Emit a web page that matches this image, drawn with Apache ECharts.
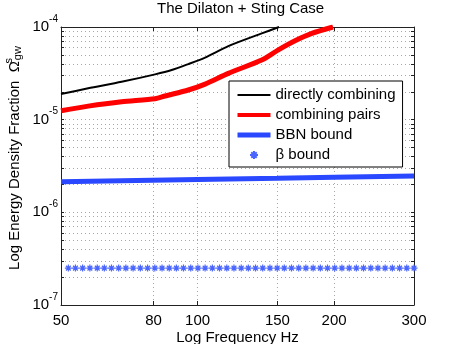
<!DOCTYPE html>
<html>
<head>
<meta charset="UTF-8">
<title>The Dilaton + Sting Case</title>
<script src="https://cdn.jsdelivr.net/npm/echarts@6/dist/echarts.min.js"></script>
<style>
  html, body { margin: 0; padding: 0; background: #fff; }
  #main { width: 457px; height: 344px; }
</style>
</head>
<body>
<div id="main"></div>
<script>
// values (frequency in Hz, Omega_gw)
const freqDirect = [50, 57.4, 68.0, 80.6, 87.7, 95.4, 103.9, 116.9, 138.5, 151.2];
const omegaDirect = [1.89e-5, 2.18e-5, 2.56e-5, 3.08e-5, 3.43e-5, 3.98e-5, 4.68e-5, 6.22e-5, 8.53e-5, 1.0e-4];

const freqPairs = [50, 57.4, 68.0, 80.6, 84.8, 95.4, 103.9, 116.9, 138.5, 150.4, 164.0, 178.6, 198.9];
const omegaPairs = [1.25e-5, 1.40e-5, 1.56e-5, 1.68e-5, 1.80e-5, 2.09e-5, 2.42e-5, 3.16e-5, 4.40e-5, 5.63e-5, 7.10e-5, 8.53e-5, 1.0e-4];

const freqBBN = [50, 100, 150, 200, 300];
const omegaBBN = [2.14e-6, 2.26e-6, 2.33e-6, 2.39e-6, 2.47e-6];

const freqBeta = [51.9, 53.8, 55.8, 57.9, 60.1, 62.3, 64.6, 67.0, 69.5, 72.1,
  74.8, 77.6, 80.5, 83.5, 86.6, 89.8, 93.1, 96.6, 100.2, 103.9,
  107.8, 111.8, 116.0, 120.3, 124.8, 129.4, 134.2, 139.2, 144.4, 149.8,
  155.3, 161.1, 167.1, 173.3, 179.8, 186.5, 193.4, 200.6, 208.1, 215.9,
  223.9, 232.2, 240.9, 249.8, 259.1, 268.8, 278.8, 289.2, 300];
const omegaBeta = 2.5e-7;

const xTicks = [50, 80, 100, 150, 200, 300];
const yMajor = [1e-7, 1e-6, 1e-5, 1e-4];
const yTicks = [];
for (let d = -7; d < -4; d++) {
  for (let m = 1; m < 10; m++) yTicks.push(m * Math.pow(10, d));
}
yTicks.push(1e-4);

const font = "'Liberation Sans', Arial, Helvetica, sans-serif";
const starPath = 'path://M5 0L5 10M0 5L10 5M1.6 1.6L8.4 8.4M8.4 1.6L1.6 8.4';
const gridLine = { show: true, lineStyle: { color: '#a8a8a8', width: 1, type: [1, 3] } };

const pairs = (xs, ys) => xs.map((x, i) => [x, ys[i]]);

const chart = echarts.init(document.getElementById('main'), null, { renderer: 'canvas' });
chart.setOption({
  animation: false,
  backgroundColor: '#fff',
  textStyle: { fontFamily: font },
  title: {
    text: 'The Dilaton + Sting Case',
    left: 157, top: 1, padding: 0,
    textStyle: { fontFamily: font, fontSize: 15, fontWeight: 'normal', color: '#000' }
  },
  grid: { left: 61, right: 43, top: 27, bottom: 39, outerBoundsMode: 'none' },
  legend: {
    left: 229, top: 81,
    orient: 'vertical',
    padding: [6, 7, 4, 6],
    itemGap: 4,
    itemWidth: 33,
    itemHeight: 10,
    backgroundColor: '#fff',
    borderColor: '#000',
    borderWidth: 1,
    textStyle: { fontFamily: font, fontSize: 15, color: '#000', lineHeight: 16 },
    data: [
      { name: 'directly combining', itemStyle: { opacity: 0 }, lineStyle: { width: 2 } },
      { name: 'combining pairs', itemStyle: { opacity: 0 }, lineStyle: { width: 4 } },
      { name: 'BBN bound', itemStyle: { opacity: 0 }, lineStyle: { width: 5 } },
      { name: 'β bound', lineStyle: { opacity: 0 } }
    ]
  },
  xAxis: [{
    type: 'log', logBase: 10, min: 50, max: 300,
    name: 'Log Frequency Hz', nameLocation: 'middle', nameGap: 25, nameMoveOverlap: false,
    nameTextStyle: { fontFamily: font, fontSize: 15, color: '#000' },
    axisLine: { lineStyle: { color: '#222', width: 1 } },
    axisTick: { inside: true, length: 4, customValues: xTicks, lineStyle: { color: '#222' } },
    axisLabel: { customValues: xTicks, fontSize: 15, color: '#000', margin: 8, fontFamily: font },
    splitLine: gridLine
  }, {
    type: 'log', logBase: 10, min: 50, max: 300, position: 'top',
    axisLine: { lineStyle: { color: '#222', width: 1 } },
    axisTick: { inside: true, length: 4, customValues: xTicks, lineStyle: { color: '#222' } },
    axisLabel: { show: false },
    splitLine: { show: false }
  }],
  yAxis: [{
    type: 'log', logBase: 10, min: 1e-7, max: 1e-4,
    name: '{n|Log Energy Density Fraction  Ω}{sup|s}{sub|gw}',
    nameLocation: 'middle', nameGap: 34, nameMoveOverlap: false,
    nameTextStyle: {
      padding: [0, 0, 0, 16],
      rich: {
        n: { fontFamily: font, fontSize: 15, color: '#000', lineHeight: 24, verticalAlign: 'middle' },
        sup: { fontFamily: font, fontSize: 11, color: '#000', lineHeight: 11, verticalAlign: 'top', width: 1 },
        sub: { fontFamily: font, fontSize: 11, color: '#000', lineHeight: 11, verticalAlign: 'bottom', padding: [0, 0, 4, 0] }
      }
    },
    axisLine: { show: true, lineStyle: { color: '#222', width: 1 } },
    axisTick: { inside: true, length: 3, customValues: yTicks, lineStyle: { color: '#222' } },
    axisLabel: {
      customValues: yMajor, margin: 3,
      formatter: v => '{b|10}{e|' + Math.round(Math.log10(v)) + '}',
      rich: {
        b: { fontFamily: font, fontSize: 15, color: '#000', lineHeight: 26, verticalAlign: 'middle' },
        e: { fontFamily: font, fontSize: 10, color: '#000', lineHeight: 12, verticalAlign: 'top' }
      }
    },
    splitLine: gridLine
  }, {
    type: 'log', logBase: 10, min: 1e-7, max: 1e-4, position: 'right',
    axisLine: { show: true, lineStyle: { color: '#222', width: 1 } },
    axisTick: { inside: true, length: 3, customValues: yTicks, lineStyle: { color: '#222' } },
    axisLabel: { show: false },
    splitLine: { show: false }
  }],
  series: [{
    name: 'directly combining', type: 'line', smooth: 0.25, symbol: 'none',
    data: pairs(freqDirect, omegaDirect),
    lineStyle: { color: '#000', width: 2 }, itemStyle: { color: '#000' }, z: 4
  }, {
    name: 'combining pairs', type: 'line', smooth: 0.25, symbol: 'none',
    data: pairs(freqPairs, omegaPairs),
    lineStyle: { color: '#ff0000', width: 5 }, itemStyle: { color: '#ff0000' }, z: 3
  }, {
    name: 'BBN bound', type: 'line', symbol: 'none',
    data: pairs(freqBBN, omegaBBN),
    lineStyle: { color: '#2a48ff', width: 5 }, itemStyle: { color: '#2a48ff' }, z: 2
  }, {
    name: 'β bound', type: 'line', symbol: starPath, symbolSize: 7, showAllSymbol: true,
    data: freqBeta.map(f => [f, omegaBeta]),
    lineStyle: { width: 0, opacity: 0 },
    itemStyle: { color: 'rgba(0,0,0,0)', borderColor: '#4a66ff', borderWidth: 1.2 }, z: 2
  }]
});
</script>
</body>
</html>
